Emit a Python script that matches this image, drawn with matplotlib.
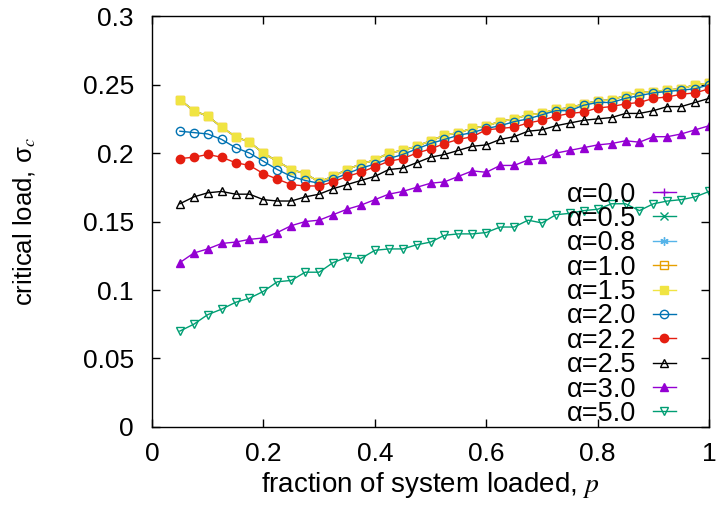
import matplotlib
matplotlib.use("Agg")
import matplotlib.pyplot as plt

plt.rcParams.update({
    "font.family": ["Liberation Sans", "DejaVu Sans"],
    "mathtext.fontset": "stix",
    "font.size": 19,
})

# fraction of system loaded, p = 0.05 ... 1.0 in steps of 0.025
p = [0.05 + 0.025 * i for i in range(39)]

# alpha <= 1.5 all sit on the same top curve (read from the yellow squares)
top_curve = [
    0.239, 0.231, 0.227, 0.219, 0.212, 0.208, 0.200, 0.194, 0.188, 0.185,
    0.179, 0.183, 0.188, 0.192, 0.195, 0.200, 0.202, 0.205, 0.209, 0.213,
    0.215, 0.218, 0.220, 0.223, 0.225, 0.228, 0.229, 0.232, 0.233, 0.236,
    0.238, 0.239, 0.242, 0.244, 0.245, 0.246, 0.247, 0.250, 0.251,
]
sigma_a00 = top_curve
sigma_a05 = top_curve
sigma_a08 = top_curve
sigma_a10 = top_curve
sigma_a15 = top_curve

sigma_a20 = [
    0.216, 0.215, 0.214, 0.210, 0.204, 0.200, 0.194, 0.188, 0.183, 0.180,
    0.178, 0.181, 0.185, 0.189, 0.192, 0.196, 0.199, 0.203, 0.207, 0.210,
    0.213, 0.215, 0.218, 0.220, 0.223, 0.225, 0.228, 0.231, 0.231, 0.235,
    0.237, 0.237, 0.240, 0.242, 0.244, 0.245, 0.246, 0.247, 0.250,
]
sigma_a22 = [
    0.196, 0.197, 0.199, 0.197, 0.193, 0.191, 0.185, 0.181, 0.177, 0.176,
    0.176, 0.179, 0.183, 0.186, 0.190, 0.194, 0.196, 0.200, 0.203, 0.207,
    0.210, 0.212, 0.217, 0.218, 0.219, 0.222, 0.224, 0.227, 0.229, 0.230,
    0.233, 0.234, 0.236, 0.237, 0.240, 0.241, 0.243, 0.244, 0.247,
]
sigma_a25 = [
    0.163, 0.168, 0.171, 0.172, 0.170, 0.170, 0.166, 0.165, 0.165, 0.168,
    0.170, 0.174, 0.177, 0.180, 0.183, 0.188, 0.189, 0.193, 0.197, 0.199,
    0.202, 0.205, 0.206, 0.210, 0.212, 0.216, 0.217, 0.220, 0.222, 0.224,
    0.225, 0.226, 0.229, 0.229, 0.231, 0.234, 0.234, 0.237, 0.240,
]
sigma_a30 = [
    0.120, 0.127, 0.130, 0.134, 0.135, 0.137, 0.138, 0.142, 0.147, 0.150,
    0.151, 0.155, 0.159, 0.162, 0.166, 0.170, 0.172, 0.175, 0.178, 0.179,
    0.183, 0.187, 0.186, 0.191, 0.191, 0.195, 0.196, 0.200, 0.202, 0.204,
    0.206, 0.207, 0.209, 0.208, 0.212, 0.212, 0.214, 0.217, 0.220,
]
sigma_a50 = [
    0.070, 0.075, 0.082, 0.086, 0.091, 0.094, 0.099, 0.106, 0.107, 0.113,
    0.113, 0.120, 0.124, 0.123, 0.129, 0.130, 0.130, 0.133, 0.135, 0.140,
    0.141, 0.141, 0.142, 0.146, 0.146, 0.151, 0.149, 0.155, 0.156, 0.158,
    0.159, 0.163, 0.163, 0.158, 0.163, 0.165, 0.166, 0.168, 0.172,
]

labels = ["α=0.0", "α=0.5", "α=0.8", "α=1.0", "α=1.5",
          "α=2.0", "α=2.2", "α=2.5", "α=3.0", "α=5.0"]
series = [sigma_a00, sigma_a05, sigma_a08, sigma_a10, sigma_a15,
          sigma_a20, sigma_a22, sigma_a25, sigma_a30, sigma_a50]

# gnuplot-like styles: (color, marker, filled)
styles = [
    ("#9400d3", "+", True),
    ("#009e73", "x", True),
    ("#56b4e9", (6, 2, 0), True),
    ("#e69f00", "s", False),
    ("#f0e442", "s", True),
    ("#0072b2", "o", False),
    ("#e51e10", "o", True),
    ("#000000", "^", False),
    ("#9400d3", "^", True),
    ("#009e73", "v", False),
]

fig = plt.figure(figsize=(7.17, 5.07), dpi=100)
ax = fig.add_axes([0.212, 0.158, 0.777, 0.810])

for y, lbl, (col, mk, filled) in zip(series, labels, styles):
    ax.plot(p, y, color=col, lw=1.0, marker=mk, ms=6, mew=1.0,
            mfc=col if filled else "none", mec=col, label=lbl)

ax.set_xlim(0, 1)
ax.set_ylim(0, 0.3)
ax.set_xticks([0, 0.2, 0.4, 0.6, 0.8, 1])
ax.set_xticklabels(["0", "0.2", "0.4", "0.6", "0.8", "1"])
ax.set_yticks([0, 0.05, 0.1, 0.15, 0.2, 0.25, 0.3])
ax.set_yticklabels(["0", "0.05", "0.1", "0.15", "0.2", "0.25", "0.3"])
ax.tick_params(axis="both", direction="in", top=True, right=True,
               length=5.5, width=1, labelsize=19)
ax.tick_params(axis="y", pad=13)
ax.tick_params(axis="x", pad=11)
for s in ax.spines.values():
    s.set_linewidth(1.0)

ax.set_xlabel("fraction of system loaded, $p$", fontsize=20)
ax.set_ylabel("critical load, σ$_{c}$", fontsize=18.5)
ax.xaxis.set_label_coords(0.5, -0.105)
ax.yaxis.set_label_coords(-0.205, 0.5)

ax.legend(loc="lower right", bbox_to_anchor=(0.94, 0.0), frameon=False,
          markerfirst=False, handlelength=0.85, handletextpad=0.6,
          labelspacing=-0.06, borderpad=0, borderaxespad=0, fontsize=19.5)

fig.savefig("out.png", dpi=100)
